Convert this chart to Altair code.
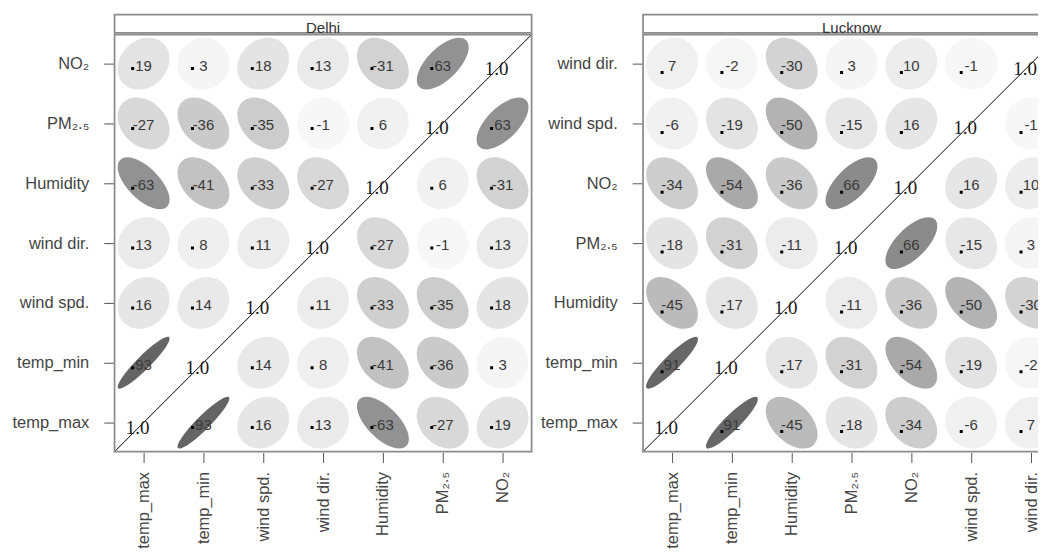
import altair as alt
import pandas as pd

# ---------------- data ----------------
delhi_vars = ["temp_max", "temp_min", "wind spd.", "wind dir.", "Humidity", "PM₂.₅", "NO₂"]
# rows from top (last variable) to bottom (first variable); None = diagonal
delhi_rows = [
    [19, 3, 18, 13, -31, 63, None],
    [-27, -36, -35, -1, 6, None, 63],
    [-63, -41, -33, -27, None, 6, -31],
    [13, 8, 11, None, -27, -1, 13],
    [16, 14, None, 11, -33, -35, 18],
    [93, None, 14, 8, -41, -36, 3],
    [None, 93, 16, 13, -63, -27, 19],
]

lucknow_vars = ["temp_max", "temp_min", "Humidity", "PM₂.₅", "NO₂", "wind spd.", "wind dir."]
lucknow_rows = [
    [7, -2, -30, 3, 10, -1, None],
    [-6, -19, -50, -15, 16, None, -1],
    [-34, -54, -36, 66, None, 16, 10],
    [-18, -31, -11, None, 66, -15, 3],
    [-45, -17, None, -11, -36, -50, -30],
    [91, None, -17, -31, -54, -19, -2],
    [None, 91, -45, -18, -34, -6, 7],
]

diag_label = "1.0"

LABEL_FONT = "Liberation Sans"
FRAME = "#8c8c8c"
GRAY_DOMAIN = [0, 0.2, 0.35, 0.5, 0.65, 0.93]
GRAY_RANGE = ["#f8f8f8", "#e2e2e2", "#cccccc", "#b3b3b3", "#8d8d8d", "#646464"]
PANEL = 420  # full panel size in px


def ellipse_path_expr():
    k = "0.5523"
    ka = f"({k}*datum.a)"
    kb = f"({k}*datum.b)"
    a, b = "datum.a", "datum.b"
    na, nb = "(-datum.a)", "(-datum.b)"
    nka, nkb = f"(-{k}*datum.a)", f"(-{k}*datum.b)"
    seq = [
        "M", (a, "0"),
        "C", (a, kb), (ka, b), ("0", b),
        "C", (nka, b), (na, kb), (na, "0"),
        "C", (na, nkb), (nka, nb), ("0", nb),
        "C", (ka, nb), (a, nkb), (a, "0"),
        "Z",
    ]
    parts = []
    for s in seq:
        if isinstance(s, str):
            parts.append(f"'{s} '")
        else:
            for c in s:
                if c == "0":
                    parts.append("'0 '")
                else:
                    parts.append(f"({c}) + ' '")
    return " + ".join(parts)


def panel(name, vars_, rows, dot_dx, dot_dy, vis_w):
    n = len(vars_)
    cells = []
    for ri, row in enumerate(rows):
        for ci, v in enumerate(row):
            cells.append({"xi": ci + 1, "yi": n - ri, "v": v})
    df = pd.DataFrame(cells)
    off = df[df["v"].notna()].copy()
    off["v"] = off["v"].astype(int)
    off["lab"] = off["v"].astype(str)
    diag = df[df["v"].isna()][["xi", "yi"]].copy()
    diag["lab"] = diag_label

    lo, hi = 0.5, n + 0.5
    x_hi = lo + n * vis_w / PANEL  # visible part of the panel (page edge crops it)
    xs = alt.Scale(domain=[lo, x_hi], nice=False, zero=False)
    ys = alt.Scale(domain=[lo, hi], nice=False, zero=False)
    names = "[" + ",".join("'" + s + "'" for s in vars_) + "]"
    lab_expr = names + "[datum.value - 1]"

    xaxis = alt.Axis(values=list(range(1, n + 1)), labelExpr=lab_expr, labelAngle=270,
                     title=None, grid=False, domain=False, tickSize=10, tickColor="#555",
                     labelPadding=9, labelFont=LABEL_FONT, labelFontSize=16.5,
                     labelColor="#444", labelOverlap=False, labelFlush=False)
    yaxis = alt.Axis(values=list(range(1, n + 1)), labelExpr=lab_expr, labelAngle=0,
                     title=None, grid=False, domain=False, tickSize=10, tickColor="#555",
                     labelPadding=15, labelFont=LABEL_FONT, labelFontSize=16.5,
                     labelColor="#444", labelOverlap=False, labelFlush=False,
                     minExtent=100, maxExtent=100)

    def pos(chart, xf="xi", yf="yi"):
        return chart.encode(x=alt.X(f"{xf}:Q", scale=xs, axis=xaxis),
                            y=alt.Y(f"{yf}:Q", scale=ys, axis=yaxis))

    ell = pos(alt.Chart(off)).transform_calculate(
        ar="abs(datum.v) / 100"
    ).transform_calculate(
        a="sqrt(1 + datum.ar) / sqrt(2)",
        b="sqrt(1 - datum.ar) / sqrt(2)",
        ang="datum.v > 0 ? 315 : 45",
    ).transform_calculate(
        path=ellipse_path_expr()
    ).mark_point(filled=True, opacity=1, size=5408, strokeWidth=0, clip=True).encode(
        shape=alt.Shape("path:N", scale=None),
        angle=alt.Angle("ang:Q", scale=None),
        color=alt.Color("ar:Q", scale=alt.Scale(domain=GRAY_DOMAIN, range=GRAY_RANGE),
                        legend=None),
    )

    dots = pos(alt.Chart(off)).mark_square(size=9, color="black", filled=True, opacity=1,
                                           xOffset=dot_dx, yOffset=dot_dy, clip=True)

    nums = pos(alt.Chart(off)).mark_text(font=LABEL_FONT, fontSize=15, color="#3a3a3a",
                                         baseline="middle", dy=2, clip=True).encode(text="lab:N")

    diag_txt = pos(alt.Chart(diag)).mark_text(font="Liberation Serif", fontSize=19,
                                              color="#1a1a1a", baseline="middle",
                                              dx=-6, dy=5, clip=True).encode(text="lab:N")

    edge_df = pd.DataFrame({"p0": [lo], "p1": [hi]})
    rule = alt.Chart(edge_df).mark_rule(color="black", strokeWidth=1, clip=True).encode(
        x=alt.X("p0:Q", scale=xs, axis=xaxis), x2="p1:Q",
        y=alt.Y("p0:Q", scale=ys, axis=yaxis), y2="p1:Q")

    frame = alt.Chart(edge_df).mark_rect(fillOpacity=0, stroke=FRAME, strokeWidth=3.5,
                                         clip=True).encode(
        x=alt.X("p0:Q", scale=xs, axis=xaxis), x2="p1:Q",
        y=alt.Y("p0:Q", scale=ys, axis=yaxis), y2="p1:Q")

    main = alt.layer(ell, nums, dots, rule, diag_txt, frame).properties(
        width=vis_w, height=PANEL)

    strip_df = pd.DataFrame({"p0": [lo], "p1": [hi], "mid": [(lo + hi) / 2],
                             "b": [0], "t_": [1], "t": [name]})
    sy = alt.Scale(domain=[0, 1], nice=False, zero=False)
    strip_box = alt.Chart(strip_df).mark_rect(fill="white", stroke=FRAME, strokeWidth=3.5,
                                              clip=True).encode(
        x=alt.X("p0:Q", scale=xs, axis=None), x2="p1:Q",
        y=alt.Y("b:Q", scale=sy, axis=None), y2="t_:Q")
    strip_txt = alt.Chart(strip_df).mark_text(
        font=LABEL_FONT, fontSize=15, color="#333", baseline="alphabetic", dy=-1
    ).encode(x=alt.X("mid:Q", scale=xs, axis=None),
             y=alt.Y("b:Q", scale=sy, axis=None), text="t:N")
    strip = alt.layer(strip_box, strip_txt).properties(width=vis_w, height=20)

    return strip, main


d_strip, d_main = panel("Delhi", delhi_vars, delhi_rows, -11, 5, PANEL)
l_strip, l_main = panel("Lucknow", lucknow_vars, lucknow_rows, -10, 9, 397)

chart = alt.concat(d_strip, l_strip, d_main, l_main, columns=2, bounds="flush",
                   spacing={"row": 0, "column": 110}).properties(
    padding={"left": 3, "top": 5, "right": 0, "bottom": 5},
    background="white",
).configure_view(stroke=None)

chart.save("out.html", embed_options={"renderer": "svg", "actions": False})
